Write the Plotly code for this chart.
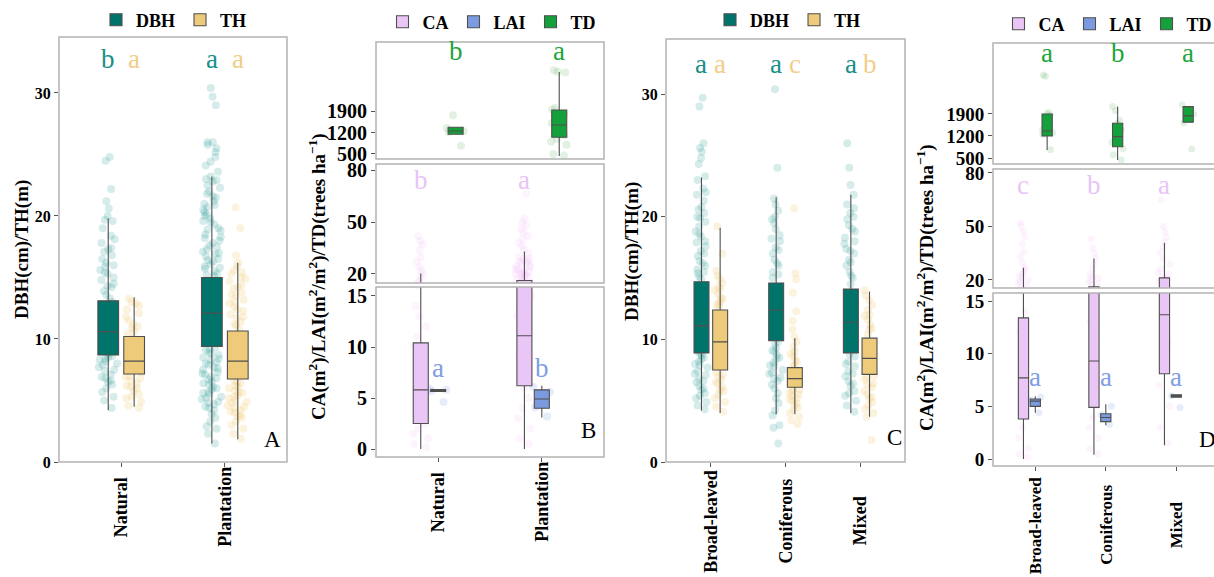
import plotly.graph_objects as go

W, H = 1214, 577
SERIF = "Liberation Serif"

# ---------------- data ----------------
cats_origin = ["Natural", "Plantation"]
cats_type = ["Broad-leaved", "Coniferous", "Mixed"]

# box statistics: [lowerfence, q1, median, q3, upperfence]
dbh_origin_stats = [[4.2, 8.7, 10.6, 13.1, 19.8], [1.5, 9.4, 12.1, 15.0, 23.2]]
th_origin_stats = [[4.5, 7.15, 8.2, 10.2, 13.4], [1.85, 6.75, 8.2, 10.65, 16.2]]
ca_origin_stats = [[0.0, 2.5, 5.8, 10.4, 20.3], [0.0, 6.2, 11.1, 16.2, 33.0]]
lai_origin_stats = [[5.62, 5.65, 5.75, 5.82, 5.85], [3.1, 4.0, 4.9, 5.8, 6.2]]
td_origin_stats = [[1141, 1141, 1249, 1369, 1369], [435, 1043, 1444, 1933, 3170]]

dbh_type_stats = [[4.2, 8.9, 11.1, 14.7, 23.2], [3.9, 9.9, 12.4, 14.6, 21.6], [4.0, 8.9, 11.4, 14.1, 21.8]]
th_type_stats = [[4.0, 7.5, 9.8, 12.4, 19.1], [3.9, 6.1, 6.8, 7.7, 10.1], [3.7, 7.15, 8.45, 10.1, 13.9]]
ca_type_stats = [[0.0, 3.8, 7.7, 13.4, 26.9], [0.4, 4.9, 9.3, 16.2, 32.0], [1.3, 8.1, 13.7, 21.2, 40.8]]
lai_type_stats = [[4.4, 5.0, 5.5, 5.7, 5.95], [3.2, 3.55, 3.95, 4.3, 5.2], [5.85, 5.88, 6.0, 6.1, 6.12]]
td_type_stats = [[755, 1200, 1360, 1900, 1900], [440, 860, 1180, 1605, 2135], [1640, 1640, 1840, 2135, 2135]]

# significance letters
dbh_origin_letters = ["b", "a"]
th_origin_letters = ["a", "a"]
ca_origin_letters = ["b", "a"]
lai_origin_letters = ["a", "b"]
td_origin_letters = ["b", "a"]
dbh_type_letters = ["a", "a", "a"]
th_type_letters = ["a", "c", "b"]
ca_type_letters = ["c", "b", "a"]
lai_type_letters = ["a", "a", "a"]
td_type_letters = ["a", "b", "a"]

dbh_origin_pts = [
    [24.8, 24.5, 22.2, 21.2, 20.6, 20.0, 19.7, 19.6, 19.0, 18.4, 18.1, 17.8, 17.4, 17.1, 16.8, 16.5, 16.2,
     15.9, 15.6, 15.3, 15.0, 14.8, 14.5, 14.2, 13.9, 13.6, 13.3, 13.0, 12.6, 12.2, 11.8, 11.4, 11.0, 10.6,
     10.2, 9.8, 9.4, 9.0, 8.8, 8.6, 8.4, 8.2, 8.0, 7.7, 7.4, 7.1, 6.8, 6.5, 6.3, 6.0, 5.7, 5.3, 5.0, 4.4,
     8.5, 8.3, 7.9, 7.5, 6.9, 6.6, 14.3, 15.4, 16.0, 17.3],
    [30.4, 29.7, 29.0, 26.0, 26.0, 25.8, 25.5, 25.2, 24.8, 24.4, 24.1, 23.6, 23.2, 23.0, 22.8, 22.5, 22.3,
     22.0, 21.8, 21.5, 21.2, 21.0, 20.7, 20.5, 20.3, 20.0, 19.8, 19.5, 19.3, 19.0, 18.8, 18.5, 18.3, 18.0,
     17.8, 17.6, 17.3, 17.1, 16.9, 16.7, 16.5, 16.3, 16.1, 15.9, 15.7, 15.5, 15.3, 15.1, 14.0, 13.0, 12.0,
     11.0, 10.0, 9.3, 9.1, 8.9, 8.7, 8.5, 8.3, 8.1, 7.9, 7.7, 7.5, 7.3, 7.1, 6.9, 6.7, 6.5, 6.3, 6.1, 5.9,
     5.7, 5.5, 5.3, 5.1, 4.9, 4.7, 4.5, 4.2, 3.9, 3.6, 3.3, 2.9, 2.7, 2.3, 1.5,
     22.9, 21.6, 20.9, 20.1, 19.6, 18.9, 18.2, 17.5, 17.0, 16.4, 15.8, 15.2, 9.2, 8.8, 8.4, 8.0, 7.6, 7.2,
     6.8, 6.4, 6.0, 5.6, 5.2, 4.8, 4.4],
]
th_origin_pts = [
    [13.3, 13.0, 12.7, 12.4, 12.1, 11.8, 11.5, 11.2, 10.9, 10.6, 10.4, 10.0, 9.6, 9.2, 8.8, 8.4, 8.0, 7.6,
     7.3, 7.0, 6.8, 6.6, 6.4, 6.2, 6.0, 5.8, 5.5, 5.2, 4.9, 4.6, 4.4, 12.9, 11.0, 6.9, 6.1, 5.3],
    [20.7, 19.0, 16.8, 16.2, 15.9, 15.6, 15.3, 15.0, 14.7, 14.4, 14.1, 13.8, 13.5, 13.2, 12.9, 12.6, 12.3,
     12.0, 11.7, 11.4, 11.1, 10.8, 10.0, 9.0, 8.0, 7.0, 6.6, 6.4, 6.2, 6.0, 5.8, 5.6, 5.4, 5.2, 5.0, 4.8,
     4.6, 4.4, 4.2, 4.0, 3.8, 3.6, 3.3, 3.0, 2.7, 2.3, 1.9,
     15.4, 14.9, 14.2, 13.6, 13.0, 12.4, 11.8, 11.2, 6.5, 6.1, 5.7, 5.3, 4.9, 4.5, 4.1, 3.7],
]
ca_origin_pts = [
    [42, 39, 37, 34, 30, 27, 24, 22, 20, 18, 16, 14, 13, 12, 11, 10, 9, 8, 7, 6, 5, 4, 3, 2.5, 2, 1.5, 1,
     0.5, 0.2],
    [66, 52, 50, 48, 46, 44, 42, 40, 38, 36, 34, 32, 30, 29, 28, 27, 26, 25, 24, 23, 22, 21, 20, 19, 18,
     17, 16, 15, 14, 13, 12, 11, 10, 9, 8, 7, 6, 5, 4, 3, 2, 1, 0.5, 24.5, 22.5, 21.5, 20.5, 19.5, 18.5,
     17.5, 26.5, 28.5],
]
lai_origin_pts = [[5.9, 5.8, 5.7, 4.6], [6.1, 5.6, 4.1, 3.2]]
td_origin_pts = [
    [1760, 1350, 1240, 1220, 770],
    [3230, 3180, 3150, 2000, 1950, 1800, 1700, 1600, 1500, 1400, 1300, 1200, 1100, 1000, 900, 800, 500, 450],
]

dbh_type_pts = [
    [29.7, 29.0, 26.0, 25.6, 25.3, 24.8, 24.3, 23.3, 23.0, 22.3, 21.8, 21.3, 20.6, 20.3, 20.0, 19.6, 19.2,
     18.8, 18.4, 18.0, 17.6, 17.2, 16.8, 16.4, 16.0, 15.7, 15.4, 15.1, 14.9, 13.0, 12.0, 10.0, 9.0, 8.7, 8.5,
     8.2, 8.0, 7.7, 7.4, 7.1, 6.8, 6.5, 6.2, 5.9, 5.6, 5.2, 4.9, 4.6, 4.3,
     22.0, 20.8, 19.9, 18.6, 17.9, 17.0, 16.2, 15.5, 8.8, 8.4, 7.9, 7.2, 6.6, 6.0, 5.4],
    [30.4, 24.0, 21.5, 21.0, 20.5, 20.0, 19.5, 19.0, 18.5, 18.0, 17.5, 17.0, 16.5, 16.0, 15.5, 15.0, 13.0,
     11.0, 9.6, 9.3, 9.0, 8.7, 8.4, 8.1, 7.8, 7.5, 7.2, 6.9, 6.6, 6.3, 6.0, 5.6, 5.2, 4.8, 4.2, 3.8, 3.0,
     2.8, 1.5, 19.8, 18.2, 17.3, 16.2, 15.3, 9.8, 9.1, 8.5, 7.9, 7.3, 6.8],
    [26.0, 24.0, 22.6, 21.8, 21.0, 20.7, 20.3, 19.8, 19.3, 18.8, 18.3, 17.8, 17.4, 17.0, 16.5, 16.0, 15.5,
     15.0, 14.5, 12.0, 10.0, 8.6, 8.2, 7.8, 7.4, 7.0, 6.6, 6.2, 5.8, 5.4, 5.0, 4.6, 4.1,
     20.0, 19.0, 18.0, 17.2, 16.3, 15.2, 8.8, 8.0, 7.2, 6.4, 5.6],
]
th_type_pts = [
    [19.2, 17.0, 15.6, 15.2, 14.9, 14.6, 14.3, 14.0, 13.7, 13.4, 13.1, 12.8, 12.6, 11.0, 9.0, 7.3, 7.0, 6.7,
     6.4, 6.1, 5.8, 5.5, 5.2, 4.9, 4.5, 4.1, 14.1, 13.3, 12.9, 7.1, 6.5, 5.9],
    [20.7, 15.4, 14.9, 13.8, 12.3, 11.5, 10.8, 10.2, 9.8, 9.4, 9.0, 8.6, 8.2, 7.9, 7.0, 6.0, 5.8, 5.6, 5.4,
     5.2, 5.0, 4.8, 4.6, 4.4, 4.2, 4.0, 3.7, 3.4, 3.1, 8.8, 8.3, 7.8, 5.9, 5.5, 5.1],
    [14.0, 13.6, 13.2, 12.8, 12.4, 12.0, 11.6, 11.2, 10.8, 10.4, 9.0, 8.0, 7.0, 6.7, 6.4, 6.1, 5.8, 5.5,
     5.2, 4.9, 4.6, 4.3, 4.0, 3.7, 1.8, 11.9, 10.9, 6.9, 6.3, 5.3],
]
ca_type_pts = [
    [52, 50, 47, 44, 40, 36, 33, 30, 27, 24, 22, 20, 18, 16, 14, 12, 10, 8, 6, 4, 3, 2, 1, 0.5, 0.2,
     26, 23, 21, 19, 17],
    [43, 38, 35, 32, 29, 26, 23, 21, 19, 17, 15, 13, 11, 9, 7, 5, 4, 3, 2, 1, 0.5, 22, 20, 18],
    [65, 50, 47, 44, 41, 38, 35, 32, 29, 26, 23, 21, 19, 17, 15, 13, 11, 9, 7, 5, 3, 1.5, 24, 22],
]
lai_type_pts = [[5.9, 5.6, 4.4], [5.0, 4.2, 3.3], [6.0, 4.9]]
td_type_pts = [
    [3140, 3100, 1950, 1900, 1850, 1500, 1400, 1300, 1250, 760],
    [2140, 2000, 1700, 1600, 1400, 1200, 1000, 800, 600, 440],
    [2190, 1900, 1620, 790],
]

# ---------------- styling ----------------
C_DBH, C_TH = "#00736B", "#EDCB7A"
C_CA, C_LAI, C_TD = "#EAC6F6", "#7B9AE0", "#14A03A"
P_DBH, P_TH = "rgba(20,150,145,0.18)", "rgba(240,200,110,0.22)"
P_CA, P_LAI, P_TD = "rgba(238,170,250,0.13)", "rgba(120,150,230,0.18)", "rgba(70,160,70,0.15)"
L_DBH, L_TH = "#17908A", "#F2CE88"
L_CA, L_LAI, L_TD = "#E8C4F6", "#7E9EE4", "#1EA53C"
FRAME = "#B3B3B3"
BOXLINE = "#4f4f4f"


def dx(px):
    return px / W


def dy(px):
    return 1 - px / H


fig = go.Figure()


def add_points(xa, ya, pos, vals, color, width, size=8):
    fig.add_trace(go.Box(
        x=[pos] * len(vals), y=vals, xaxis=xa, yaxis=ya, boxpoints="all", jitter=1, pointpos=0,
        width=width, fillcolor="rgba(0,0,0,0)", line=dict(width=0, color="rgba(0,0,0,0)"),
        whiskerwidth=0, marker=dict(color=color, size=size, line=dict(width=0)),
        showlegend=False, hoverinfo="skip"))


def add_box(xa, ya, pos, st, fill, width, name, legend, show):
    fig.add_trace(go.Box(
        x=[pos], lowerfence=[st[0]], q1=[st[1]], median=[st[2]], q3=[st[3]], upperfence=[st[4]],
        xaxis=xa, yaxis=ya, width=width, fillcolor=fill, line=dict(color=BOXLINE, width=1.1),
        whiskerwidth=0, boxpoints=False, name=name, legend=legend, showlegend=show,
        legendgroup=legend + name, hoverinfo="skip"))


annotations = []


def letter(xa, ya, x, y, text, color):
    annotations.append(dict(xref=xa, yref=ya, x=x, y=y, text=text, showarrow=False,
                            font=dict(family=SERIF, size=27, color=color), yanchor="middle"))


# ---------------- Panel A ----------------
for i in range(len(cats_origin)):
    c = i + 1
    add_points("x", "y", c - 0.125, dbh_origin_pts[i], P_DBH, 0.2)
    add_points("x", "y", c + 0.125, th_origin_pts[i], P_TH, 0.2)
for i in range(len(cats_origin)):
    c = i + 1
    add_box("x", "y", c - 0.125, dbh_origin_stats[i], C_DBH, 0.2, "DBH", "legend", i == 0)
    add_box("x", "y", c + 0.125, th_origin_stats[i], C_TH, 0.2, "TH", "legend", i == 0)
    letter("x", "y", c - 0.125, 32.8, dbh_origin_letters[i], L_DBH)
    letter("x", "y", c + 0.125, 32.8, th_origin_letters[i], L_TH)

# ---------------- Panel C ----------------
for i in range(len(cats_type)):
    c = i + 1
    add_points("x3", "y5", c - 0.125, dbh_type_pts[i], P_DBH, 0.2)
    add_points("x3", "y5", c + 0.125, th_type_pts[i], P_TH, 0.2)
for i in range(len(cats_type)):
    c = i + 1
    add_box("x3", "y5", c - 0.125, dbh_type_stats[i], C_DBH, 0.2, "DBH", "legend3", i == 0)
    add_box("x3", "y5", c + 0.125, th_type_stats[i], C_TH, 0.2, "TH", "legend3", i == 0)
    letter("x3", "y5", c - 0.125, 32.5, dbh_type_letters[i], L_DBH)
    letter("x3", "y5", c + 0.125, 32.5, th_type_letters[i], L_TH)


# ---------------- Panels B and D (broken axes) ----------------
def broken_panel(xa, ytop, ymid, ybot, ncat, ca_pts, lai_pts, td_pts, ca_st, lai_st, td_st,
                 ca_let, lai_let, td_let, leg, td_y, ca_y, lai_y, psize):
    off, bw = 0.168, 0.145
    for i in range(ncat):
        c = i + 1
        for ya in (ymid, ybot):
            add_points(xa, ya, c - off, ca_pts[i], P_CA, 0.2, psize)
        add_points(xa, ybot, c, lai_pts[i], P_LAI, 0.2, psize)
        add_points(xa, ytop, c + off, td_pts[i], P_TD, 0.2, psize)
    for i in range(ncat):
        c = i + 1
        add_box(xa, ybot, c - off, ca_st[i], C_CA, bw, "CA", leg, i == 0)
        add_box(xa, ymid, c - off, ca_st[i], C_CA, bw, "CA", leg, False)
        add_box(xa, ybot, c, lai_st[i], C_LAI, bw, "LAI", leg, i == 0)
        add_box(xa, ytop, c + off, td_st[i], C_TD, bw, "TD", leg, i == 0)
        letter(xa, ytop, c + off, td_y, td_let[i], L_TD)
        letter(xa, ymid, c - off, ca_y, ca_let[i], L_CA)
        letter(xa, ybot, c, lai_y, lai_let[i], L_LAI)


broken_panel("x2", "y2", "y3", "y4", len(cats_origin), ca_origin_pts, lai_origin_pts, td_origin_pts,
             ca_origin_stats, lai_origin_stats, td_origin_stats, ca_origin_letters, lai_origin_letters,
             td_origin_letters, "legend2", 3850, 74, 7.9, 8)
broken_panel("x4", "y6", "y7", "y8", len(cats_type), ca_type_pts, lai_type_pts, td_type_pts,
             ca_type_stats, lai_type_stats, td_type_stats, ca_type_letters, lai_type_letters,
             td_type_letters, "legend4", 3850, 73, 7.8, 7)

# ---------------- axes ----------------
tick_common = dict(showgrid=False, zeroline=False, showline=False, ticks="outside", ticklen=4,
                   tickcolor="#555555", tickwidth=1, automargin=False)
yfont_s = dict(family=SERIF, size=16, color="black", weight="bold")
yfont_b = dict(family=SERIF, size=20, color="black", weight="bold")
yfont_d = dict(family=SERIF, size=19, color="black", weight="bold")


def xax(dom, rng, anchor, labels):
    # category labels are drawn as centred rotated annotations below (like ggplot's hjust = 0.5)
    return dict(domain=dom, range=rng, anchor=anchor, tickvals=list(range(1, len(labels) + 1)),
                ticktext=labels, showticklabels=False, **tick_common)


def yax(dom, rng, anchor, vals, font):
    return dict(domain=dom, range=rng, anchor=anchor, tickvals=vals, ticktext=[str(v) for v in vals],
                tickfont=font, **tick_common)


layout_axes = dict(
    xaxis=xax([dx(59), dx(287)], [0.4, 2.6], "y", cats_origin),
    yaxis=yax([dy(462), dy(37)], [0, 34.55], "x", [0, 10, 20, 30], yfont_s),
    xaxis2=xax([dx(376), dx(604)], [0.4, 2.6], "y4", cats_origin),
    yaxis2=yax([dy(159), dy(42)], [337, 4147], "x2", [500, 1200, 1900], yfont_b),
    yaxis3=yax([dy(283), dy(164)], [14.8, 83.5], "x2", [20, 50, 80], yfont_b),
    yaxis4=yax([dy(457), dy(287)], [-0.78, 15.88], "x2", [0, 5, 10, 15], yfont_b),
    xaxis3=xax([dx(666), dx(905)], [0.4, 3.6], "y5", cats_type),
    yaxis5=yax([dy(462), dy(39)], [0, 34.5], "x3", [0, 10, 20, 30], yfont_s),
    xaxis4=xax([dx(993), 1.0], [0.4, 0.4 + 221 / 70.5], "y8", cats_type),
    yaxis6=yax([dy(164), dy(43)], [309, 4158], "x4", [500, 1200, 1900], yfont_d),
    yaxis7=yax([dy(288), dy(169)], [15.5, 82.2], "x4", [20, 50, 80], yfont_d),
    yaxis8=yax([dy(466), dy(293)], [-0.66, 15.76], "x4", [0, 5, 10, 15], yfont_d),
)

# category labels (rotated, centred)
for xa, labels, ycen, size in [("x", cats_origin, 507, 18), ("x2", cats_origin, 502, 18),
                               ("x3", cats_type, 521, 18), ("x4", cats_type, 525, 17)]:
    for i, lab in enumerate(labels):
        annotations.append(dict(xref=xa, yref="paper", x=i + 1, y=dy(ycen), text=lab, textangle=-90,
                                showarrow=False, xanchor="center", yanchor="middle",
                                font=dict(family=SERIF, size=size, color="black", weight="bold")))

# ---------------- frames ----------------
shapes = []
for xa, ya, x1 in [("x", "y", 1), ("x2", "y2", 1), ("x2", "y3", 1), ("x2", "y4", 1), ("x3", "y5", 1),
                   ("x4", "y6", 1.1), ("x4", "y7", 1.1), ("x4", "y8", 1.1)]:
    shapes.append(dict(type="rect", xref=xa + " domain", yref=ya + " domain", x0=0, x1=x1, y0=0, y1=1,
                       line=dict(color=FRAME, width=1.5), fillcolor="rgba(0,0,0,0)", layer="above"))

# ---------------- titles & panel tags ----------------
title_font = dict(family=SERIF, size=19, color="black", weight="bold")
ab_title = "DBH(cm)/TH(m)"
bd_title = "CA(m<sup>2</sup>)/LAI(m<sup>2</sup>/m<sup>2</sup>)/TD(trees ha<sup>\u22121</sup>)"
for x, y, t in [(22, 250, ab_title), (318, 277, bd_title), (632, 252, ab_title), (925, 288, bd_title)]:
    annotations.append(dict(xref="paper", yref="paper", x=dx(x), y=dy(y), text=t, textangle=-90,
                            showarrow=False, font=title_font, xanchor="center", yanchor="middle"))
tag_font = dict(family=SERIF, size=23, color="black")
for x, y, t in [(272, 439, "A"), (588, 430, "B"), (894, 437, "C"), (1207, 439, "D")]:
    annotations.append(dict(xref="paper", yref="paper", x=dx(x), y=dy(y), text=t, showarrow=False,
                            font=tag_font, xanchor="center", yanchor="middle"))

leg_common = dict(orientation="h", font=dict(family=SERIF, size=18, color="black", weight="bold"),
                  bgcolor="rgba(0,0,0,0)", itemwidth=30, xanchor="center", yanchor="middle",
                  tracegroupgap=0, itemclick=False, itemdoubleclick=False)

fig.update_layout(
    width=W, height=H, autosize=False, margin=dict(l=0, r=0, t=0, b=0, autoexpand=False),
    paper_bgcolor="white", plot_bgcolor="white", boxmode="overlay",
    shapes=shapes, annotations=annotations,
    legend=dict(x=dx(174), y=dy(20), **leg_common),
    legend2=dict(x=dx(492), y=dy(22), **leg_common),
    legend3=dict(x=dx(788), y=dy(20), **leg_common),
    legend4=dict(x=dx(1108), y=dy(24), **leg_common),
    **layout_axes,
)

fig.write_html("out.html")
